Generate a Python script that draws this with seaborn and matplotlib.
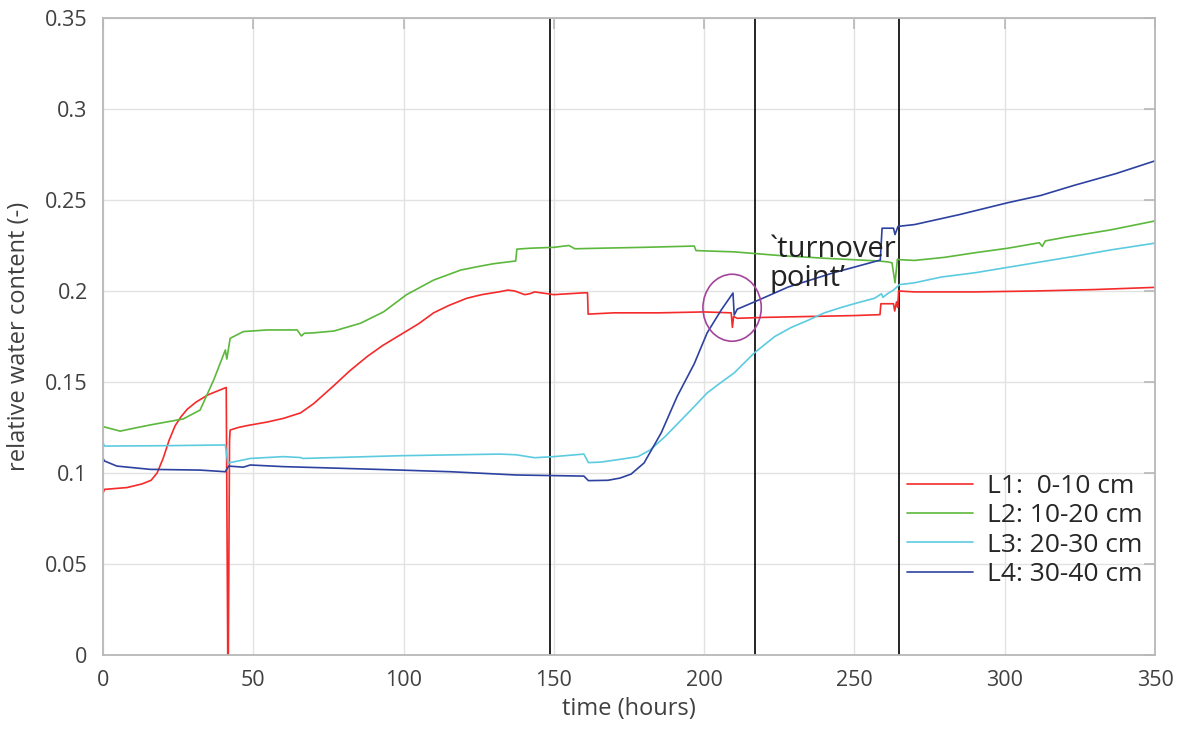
"""Relative water content per soil layer over time."""

import matplotlib
matplotlib.use("Agg")
import matplotlib.pyplot as plt
from matplotlib.patches import Ellipse
from matplotlib.ticker import FuncFormatter, MultipleLocator
import pandas as pd
import seaborn as sns

# L1: 0-10 cm
t_l1 = [0, 0.5, 8, 13, 16, 18, 20, 22, 24, 26,
        28, 31, 35, 41, 41.5, 41.7, 42.1, 42.3, 45, 47.8,
        54.6, 60, 65.7, 70, 76.8, 82, 87.9, 93, 99, 105,
        110, 115, 121, 126, 132, 134.7, 137, 140.3, 142, 143.6,
        150, 160, 161.2, 161.4, 170, 185, 200, 209, 209.4, 209.8,
        211, 220, 235, 250, 258.5, 258.8, 263, 263.4, 264, 264.4,
        264.7, 270, 290, 310, 330, 350]
v_l1 = [0.089, 0.091, 0.092, 0.094, 0.096, 0.100, 0.108, 0.118, 0.126, 0.131,
        0.135, 0.139, 0.143, 0.147, 0.0, 0.0, 0.118, 0.1236, 0.125, 0.126,
        0.128, 0.130, 0.133, 0.138, 0.148, 0.156, 0.164, 0.170, 0.176, 0.182,
        0.188, 0.192, 0.196, 0.198, 0.1996, 0.2005, 0.2, 0.198, 0.1985, 0.1995,
        0.198, 0.199, 0.199, 0.1873, 0.188, 0.188, 0.1885, 0.188, 0.180, 0.186,
        0.185, 0.1855, 0.186, 0.1865, 0.187, 0.193, 0.193, 0.189, 0.194, 0.191,
        0.2, 0.1995, 0.1995, 0.2, 0.2008, 0.202]

# L2: 10-20 cm
t_l2 = [0, 5.7, 10, 15.7, 26.7, 32.3, 36.8, 40.7, 41.2, 42.3,
        46.7, 54.6, 64.6, 66, 67, 70, 76.8, 85.7, 93.4, 101,
        110, 119, 125, 130, 137.3, 137.7, 142, 150, 155, 157,
        165, 180, 196.7, 197.3, 210, 225, 240, 258, 261, 262.5,
        263.5, 264.3, 265, 270, 280, 290, 301, 311.5, 312.5, 313.5,
        320, 335, 350]
v_l2 = [0.1255, 0.123, 0.1245, 0.1264, 0.1297, 0.1346, 0.151, 0.1676, 0.1626, 0.174,
        0.1777, 0.1786, 0.1786, 0.1753, 0.1768, 0.177, 0.178, 0.1823, 0.1886, 0.198,
        0.206, 0.2115, 0.2135, 0.215, 0.2165, 0.223, 0.2235, 0.224, 0.225, 0.2232,
        0.2235, 0.224, 0.2247, 0.2222, 0.2215, 0.2195, 0.218, 0.2165, 0.216, 0.2155,
        0.2045, 0.2175, 0.2172, 0.2168, 0.2185, 0.221, 0.2235, 0.2265, 0.2245, 0.2275,
        0.2295, 0.2335, 0.2385]

# L3: 20-30 cm
t_l3 = [0, 0.5, 20, 40.7, 41.5, 42.3, 49, 60, 65.7, 66.5,
        99, 132, 137.5, 143.6, 150, 160, 161.5, 165.7, 172, 178,
        182, 187, 192.3, 197, 201, 205, 210, 216.7, 223.5, 229,
        234.7, 240, 245.7, 251, 256.7, 259, 259.5, 261, 263, 265,
        270, 279, 290, 301, 312, 323, 335, 350]
v_l3 = [0.1165, 0.1148, 0.115, 0.1154, 0.1057, 0.1057, 0.108, 0.109, 0.1085, 0.108,
        0.1095, 0.1104, 0.110, 0.1084, 0.109, 0.1104, 0.1057, 0.106, 0.1075, 0.109,
        0.1126, 0.120, 0.129, 0.137, 0.144, 0.149, 0.155, 0.166, 0.175, 0.180,
        0.184, 0.188, 0.191, 0.1935, 0.196, 0.1985, 0.1965, 0.1985, 0.2005, 0.2035,
        0.2045, 0.2077, 0.210, 0.213, 0.216, 0.219, 0.2225, 0.2263]

# L4: 30-40 cm
t_l4 = [0, 0.5, 4.6, 15.7, 32.3, 40.7, 41.8, 46.7, 49, 60,
        76.8, 99, 115.7, 137.5, 160, 161.5, 168, 172, 175.7, 180,
        185.7, 191, 196.7, 201, 205.7, 209.6, 210, 211, 216.7, 228,
        243, 258.6, 259.2, 263, 263.5, 264.5, 270, 285, 301, 312,
        323, 337, 350]
v_l4 = [0.108, 0.1066, 0.1038, 0.102, 0.1016, 0.1007, 0.1038, 0.1032, 0.1044, 0.1035,
        0.1027, 0.1016, 0.1007, 0.0989, 0.0983, 0.0958, 0.096, 0.0972, 0.0994, 0.1055,
        0.122, 0.142, 0.160, 0.177, 0.1896, 0.1989, 0.1868, 0.190, 0.194, 0.2022,
        0.210, 0.217, 0.2345, 0.2345, 0.231, 0.2355, 0.2365, 0.242, 0.2485, 0.2525,
        0.258, 0.2645, 0.2715]

labels = ["L1:  0-10 cm", "L2: 10-20 cm", "L3: 20-30 cm", "L4: 30-40 cm"]
colors = ["#f52a2a", "#5cb83c", "#5ccbe0", "#2d42a0"]
event_times = [148.7, 216.8, 264.9]


def main():
  series = [(t_l1, v_l1), (t_l2, v_l2), (t_l3, v_l3), (t_l4, v_l4)]
  frames = []
  for lab, (t, v) in zip(labels, series):
    frames.append(pd.DataFrame({"time": t, "rwc": v, "layer": lab}))
  df = pd.concat(frames, ignore_index=True)

  sns.set_theme(style="whitegrid")
  plt.rcParams["font.family"] = ["Open Sans", "DejaVu Sans"]

  fig = plt.figure(figsize=(11.82, 7.35), dpi=100)
  ax = fig.add_axes([103 / 1182, 1 - 655 / 735, 1052 / 1182, 637 / 735])

  sns.lineplot(data=df, x="time", y="rwc", hue="layer", palette=colors,
               hue_order=labels, estimator=None, sort=False, lw=1.2, ax=ax)

  for xv in event_times:
    ax.axvline(xv, color="black", lw=1.2, zorder=1)

  ax.add_patch(Ellipse((209.3, 0.1908), width=19.4, height=0.0368, fill=False,
                       edgecolor="#a3449c", lw=1.2, zorder=5))
  ax.text(221.7, 0.231, "`turnover\npoint\u2019", fontsize=21, color="#222222",
          va="top", ha="left", linespacing=1.0, zorder=6)

  ax.set_xlim(0, 350)
  ax.set_ylim(0, 0.35)
  ax.xaxis.set_major_locator(MultipleLocator(50))
  ax.yaxis.set_major_locator(MultipleLocator(0.05))
  ax.yaxis.set_major_formatter(FuncFormatter(lambda v, p: "%g" % round(v, 2)))
  ax.set_xlabel("time (hours)", fontsize=17, color="#404040", labelpad=4)
  ax.set_ylabel("relative water content (-)", fontsize=17, color="#404040",
                labelpad=10)
  ax.tick_params(direction="in", length=8, width=1.2, color="#b8b8b8",
                 labelsize=15.5, labelcolor="#404040", top=True, right=True,
                 pad=11)
  ax.grid(True, color="#e2e2e2", lw=1)
  for sp in ax.spines.values():
    sp.set_color("#b8b8b8")
    sp.set_linewidth(1.3)

  ax.legend(loc="upper left", bbox_to_anchor=(0.764, 0.284), frameon=False,
            fontsize=19, borderpad=0, borderaxespad=0, handlelength=2.5,
            handletextpad=0.55, labelspacing=0.16)

  fig.savefig("out.png", dpi=100)


if __name__ == "__main__":
  main()
